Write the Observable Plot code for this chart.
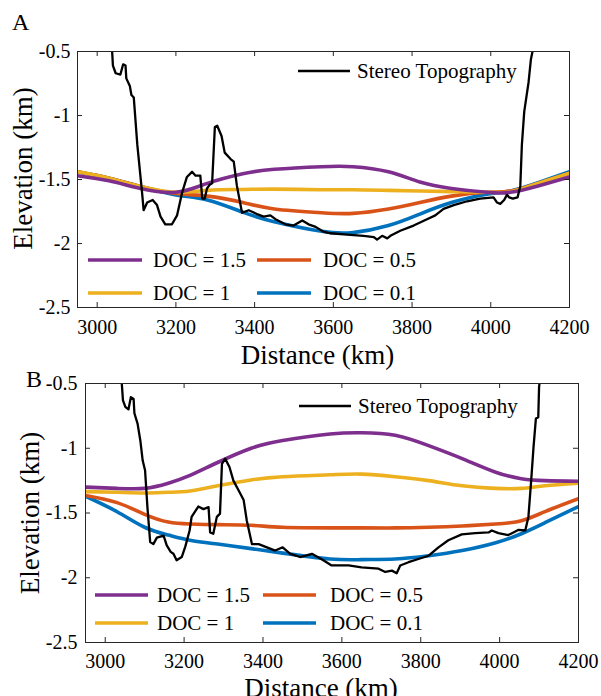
<!DOCTYPE html>
<html>
<head>
<meta charset="utf-8">
<script src="https://cdn.jsdelivr.net/npm/d3@7"></script>
<script src="https://cdn.jsdelivr.net/npm/@observablehq/plot@0.6"></script>
<style>
  html, body { margin: 0; padding: 0; background: #fff; }
  #wrap { position: relative; width: 601px; height: 696px; overflow: hidden; background: #fff; }
  #wrap svg { position: absolute; left: 0; }
</style>
</head>
<body>
<div id="wrap"></div>
<script>
// ---------- data ----------
const xTicks = [3000, 3200, 3400, 3600, 3800, 4000, 4200];
const yTicks = [-0.5, -1, -1.5, -2, -2.5];
const seriesNames = ["DOC = 1.5", "DOC = 1", "DOC = 0.5", "DOC = 0.1"];
const seriesColors = ["#7E2F8E", "#EDB120", "#D95319", "#0072BD"];
const topoName = "Stereo Topography";

// Panel A
const aX     = [2950, 3030, 3110, 3200, 3280, 3370, 3450, 3570, 3650, 3740, 3820, 3900, 3990, 4050, 4120, 4200];
const aDoc15 = [-1.47, -1.51, -1.57, -1.60, -1.53, -1.455, -1.42, -1.40, -1.40, -1.44, -1.52, -1.57, -1.60, -1.60, -1.55, -1.48];
const aDoc1  = [-1.44, -1.49, -1.555, -1.60, -1.585, -1.578, -1.575, -1.58, -1.58, -1.585, -1.59, -1.595, -1.60, -1.595, -1.53, -1.45];
const aDoc05 = [-1.44, -1.49, -1.555, -1.61, -1.63, -1.68, -1.73, -1.76, -1.765, -1.73, -1.68, -1.63, -1.60, -1.59, -1.53, -1.45];
const aDoc01 = [-1.44, -1.49, -1.555, -1.62, -1.66, -1.755, -1.83, -1.905, -1.915, -1.86, -1.77, -1.68, -1.615, -1.59, -1.525, -1.44];
const aTopo = [
  [3038,-0.5],[3040,-0.61],[3047,-0.67],[3059,-0.68],[3066,-0.60],[3072,-0.61],[3074,-0.71],[3083,-0.77],
  [3087,-0.84],[3093,-0.86],[3102,-1.23],[3114,-1.60],[3118,-1.74],[3127,-1.68],[3141,-1.66],[3152,-1.70],
  [3161,-1.79],[3173,-1.85],[3190,-1.85],[3203,-1.78],[3216,-1.60],[3228,-1.48],[3241,-1.44],[3250,-1.47],
  [3262,-1.47],[3267,-1.65],[3273,-1.65],[3279,-1.57],[3286,-1.54],[3292,-1.53],[3299,-1.09],[3305,-1.08],
  [3316,-1.16],[3324,-1.29],[3339,-1.34],[3347,-1.36],[3355,-1.55],[3368,-1.76],[3385,-1.74],[3406,-1.77],
  [3423,-1.79],[3440,-1.78],[3453,-1.81],[3478,-1.85],[3499,-1.86],[3521,-1.82],[3537,-1.85],[3555,-1.87],
  [3576,-1.91],[3593,-1.92],[3635,-1.93],[3677,-1.94],[3703,-1.95],[3711,-1.97],[3724,-1.94],[3737,-1.96],
  [3745,-1.94],[3770,-1.90],[3804,-1.86],[3838,-1.81],[3859,-1.78],[3880,-1.73],[3906,-1.70],[3940,-1.67],
  [3973,-1.65],[4007,-1.64],[4016,-1.68],[4024,-1.69],[4034,-1.66],[4041,-1.62],[4047,-1.64],[4056,-1.65],
  [4068,-1.64],[4075,-1.55],[4079,-1.23],[4085,-0.97],[4096,-0.74],[4102,-0.56],[4106,-0.5]
];

// Panel B
const bX     = [2950, 3030, 3100, 3160, 3215, 3285, 3370, 3450, 3570, 3650, 3735, 3820, 3905, 3990, 4055, 4115, 4200];
const bDoc15 = [-1.30, -1.31, -1.31, -1.27, -1.21, -1.11, -1.00, -0.94, -0.89, -0.88, -0.90, -0.98, -1.08, -1.185, -1.235, -1.25, -1.255];
const bDoc1  = [-1.335, -1.34, -1.345, -1.34, -1.33, -1.29, -1.245, -1.22, -1.205, -1.20, -1.22, -1.25, -1.29, -1.31, -1.31, -1.29, -1.27];
const bDoc05 = [-1.365, -1.42, -1.51, -1.57, -1.585, -1.59, -1.595, -1.61, -1.615, -1.615, -1.615, -1.61, -1.60, -1.585, -1.56, -1.49, -1.39];
const bDoc01 = [-1.37, -1.49, -1.61, -1.67, -1.71, -1.74, -1.775, -1.81, -1.855, -1.86, -1.855, -1.83, -1.79, -1.73, -1.66, -1.575, -1.45];
const bTopo = [
  [3042,-0.5],[3045,-0.63],[3051,-0.68],[3059,-0.70],[3065,-0.605],[3072,-0.62],[3074,-0.73],[3082,-0.81],
  [3089,-0.94],[3095,-1.095],[3101,-1.17],[3107,-1.455],[3114,-1.725],[3122,-1.74],[3131,-1.69],[3148,-1.675],
  [3156,-1.75],[3166,-1.80],[3173,-1.815],[3181,-1.865],[3194,-1.84],[3203,-1.76],[3214,-1.635],[3219,-1.53],
  [3236,-1.45],[3249,-1.47],[3262,-1.455],[3266,-1.65],[3274,-1.66],[3283,-1.53],[3291,-1.505],[3296,-1.12],
  [3304,-1.08],[3315,-1.145],[3325,-1.25],[3338,-1.325],[3351,-1.40],[3359,-1.56],[3372,-1.74],[3389,-1.74],
  [3410,-1.765],[3431,-1.79],[3450,-1.765],[3469,-1.815],[3494,-1.84],[3524,-1.815],[3553,-1.865],[3574,-1.905],
  [3617,-1.905],[3650,-1.92],[3693,-1.93],[3710,-1.955],[3727,-1.945],[3739,-1.965],[3748,-1.905],[3769,-1.88],
  [3794,-1.855],[3820,-1.83],[3845,-1.765],[3870,-1.71],[3904,-1.665],[3938,-1.655],[3972,-1.65],[3980,-1.635],
  [3997,-1.655],[4022,-1.67],[4035,-1.65],[4048,-1.63],[4065,-1.635],[4073,-1.53],[4080,-1.25],[4086,-0.99],
  [4092,-0.77],[4098,-0.76],[4100,-0.53],[4101,-0.5]
];

// ---------- drawing ----------
const FONT = "Liberation Serif";
const wrap = document.getElementById("wrap");

function panel(cfg) {
  const {xs, docs, topo, top, height, mL, mR, mT, mB, letter, xTitleDx, xTitleDy, yTitleDx, yTitleDy, legend} = cfg;
  const plotW = 601 - mL - mR, plotH = height - mT - mB;
  const rows = (arr) => xs.map((x, i) => ({x, y: arr[i]}));
  const order = [3, 2, 1, 0];
  const svg = Plot.plot({
    width: 601, height,
    marginLeft: mL, marginRight: mR, marginTop: mT, marginBottom: mB,
    x: {domain: [2950, 4200]},
    y: {domain: [-2.5, -0.5]},
    style: "background: transparent; overflow: visible; color: #000; font-family: 'Liberation Serif', serif;",
    marks: [
      ...order.map(k => Plot.line(rows(docs[k]), {x: "x", y: "y", stroke: seriesColors[k], strokeWidth: 3.6, curve: "natural", clip: true})),
      Plot.line(topo, {x: d => d[0], y: d => d[1], stroke: "#000", strokeWidth: 2.3, clip: true, strokeLinejoin: "round"}),
      Plot.frame({stroke: "#262626", strokeWidth: 1}),
      Plot.tickX(xTicks, {x: d => d, insetTop: plotH - 5, stroke: "#262626"}),
      Plot.tickX(xTicks, {x: d => d, insetBottom: plotH - 5, stroke: "#262626"}),
      Plot.tickY(yTicks, {y: d => d, insetRight: plotW - 5, stroke: "#262626"}),
      Plot.tickY(yTicks, {y: d => d, insetLeft: plotW - 5, stroke: "#262626"}),
      Plot.axisX(xTicks, {tickSize: 0, tickPadding: cfg.xPad, fontSize: 20, tickFormat: d => String(d), label: null}),
      Plot.axisY(yTicks, {tickSize: 0, tickPadding: cfg.yPad, fontSize: 20, tickFormat: d => String(d), label: null}),
      Plot.text(["Distance (km)"], {frameAnchor: "bottom", text: d => d, dx: xTitleDx, dy: xTitleDy, fontSize: 27, textAnchor: "middle", lineAnchor: "middle", fill: "#000"}),
      Plot.text(["Elevation (km)"], {frameAnchor: "left", text: d => d, rotate: -90, dx: yTitleDx, dy: yTitleDy, fontSize: 27, textAnchor: "middle", lineAnchor: "middle", fill: "#000"})
    ]
  });
  svg.style.top = top + "px";
  const g = d3.select(svg).append("g").attr("fill", "#000").attr("text-anchor", "start");
  g.append("text").attr("x", letter.x).attr("y", letter.y).attr("font-size", 24).text(letter.t);
  const items = [
    {k: 0, col: 0, row: 0}, {k: 2, col: 1, row: 0},
    {k: 1, col: 0, row: 1}, {k: 3, col: 1, row: 1}
  ];
  for (const it of items) {
    const lx = mL + legend.lineX[it.col], ly = mT + legend.rowY[it.row];
    g.append("line").attr("x1", lx).attr("x2", lx + legend.lineLen).attr("y1", ly).attr("y2", ly)
      .attr("stroke", seriesColors[it.k]).attr("stroke-width", 3.6);
    g.append("text").attr("x", mL + legend.textX[it.col]).attr("y", ly).attr("dy", "0.34em")
      .attr("font-size", 21).text(seriesNames[it.k]);
  }
  const sx = mL + legend.stereoX, sy = mT + legend.stereoY;
  g.append("line").attr("x1", sx).attr("x2", sx + 52).attr("y1", sy).attr("y2", sy).attr("stroke", "#000").attr("stroke-width", 2.3);
  g.append("text").attr("x", sx + 59).attr("y", sy).attr("dy", "0.34em").attr("font-size", 21).text(topoName);
  d3.select(svg).attr("font-family", FONT);
  d3.select(svg).selectAll("text, g").attr("font-family", FONT).style("font-family", "'Liberation Serif', serif");
  wrap.appendChild(svg);
}

panel({
  xs: aX, docs: [aDoc15, aDoc1, aDoc05, aDoc01], topo: aTopo,
  top: 0, height: 370, mL: 77, mR: 32, mT: 51, mB: 63, yPad: 7, xPad: 12,
  letter: {x: 12, y: 30, t: "A"},
  xTitleDx: -6, xTitleDy: 48, yTitleDx: -54, yTitleDy: -11,
  legend: {lineX: [11, 180], textX: [76, 246], rowY: [209, 242], lineLen: 54, stereoX: 221, stereoY: 20}
});
panel({
  xs: bX, docs: [bDoc15, bDoc1, bDoc05, bDoc01], topo: bTopo,
  top: 345, height: 351, mL: 85, mR: 23, mT: 38, mB: 54, yPad: 8, xPad: 11,
  letter: {x: 26, y: 42, t: "B"},
  xTitleDx: -11, xTitleDy: 46, yTitleDx: -55, yTitleDy: 0,
  legend: {lineX: [10, 178], textX: [72, 245], rowY: [212, 240], lineLen: 53, stereoX: 214, stereoY: 23}
});
</script>
</body>
</html>
